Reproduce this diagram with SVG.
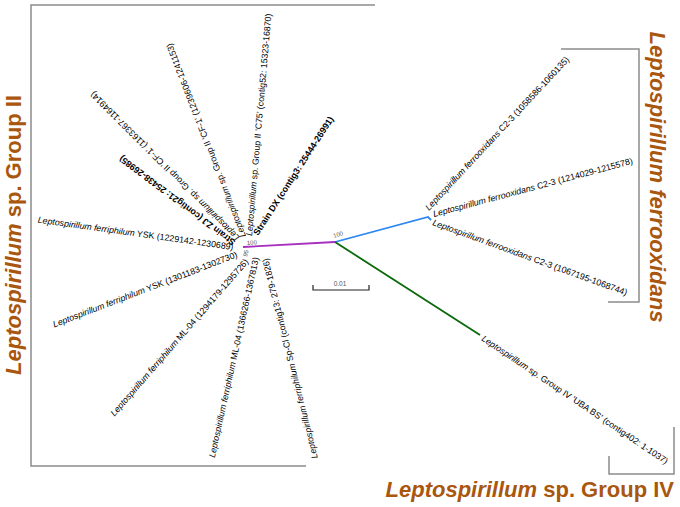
<svg xmlns="http://www.w3.org/2000/svg" width="680" height="507" viewBox="0 0 680 507">
<style>
.lb{font-family:"Liberation Sans",Arial,sans-serif;font-size:8.8px;fill:#000}
.it{font-style:italic}
.bd{font-weight:bold;font-size:9px}
.ti{font-family:"Liberation Sans",Arial,sans-serif;font-size:22px;font-weight:bold;fill:#a9560e}
.br{fill:none;stroke:#8c8c8c;stroke-width:1.5}
.bs{font-family:"Liberation Sans",Arial,sans-serif;font-size:6px;fill:#555}
.ln{fill:none;stroke-width:1.8}
</style>
<rect width="680" height="507" fill="#fff"/>
<g id="brackets">
<path class="br" d="M375,5 H31 V466 H306"/>
<path class="br" d="M561,49 H639 V302 H608"/>
<path class="br" d="M609,456 V474 H674 V427"/>
</g>
<g id="titles">
<text class="ti" transform="translate(21,235) rotate(-90)" text-anchor="middle"><tspan class="it">Leptospirillum</tspan> sp. Group II</text>
<text class="ti it" transform="translate(650,177) rotate(90)" text-anchor="middle">Leptospirillum ferrooxidans</text>
<text class="ti" x="674" y="497" text-anchor="end"><tspan class="it">Leptospirillum</tspan> sp. Group IV</text>
</g>
<g id="connectors">
<path class="ln" stroke="#a62fbf" d="M243,247 L335,242"/>
<path class="ln" stroke="#2a86f0" d="M335,242 L428,217 L431,220"/>
<path class="ln" stroke="#0b690b" d="M335,242 L480,335"/>
</g>
<g id="bootstrap">
<text class="bs" transform="translate(334,238) rotate(-18)">100</text>
<text class="bs" transform="translate(247,245) rotate(-5)">100</text>
<text class="bs" transform="translate(247,257) rotate(-75)">95</text>
</g>
<g id="scalebar">
<path fill="none" stroke="#222" stroke-width="1.2" d="M313,285 V290 H369 V285"/>
<text class="bs" x="340" y="286" text-anchor="middle" style="font-size:6.5px">0.01</text>
</g>
<g id="n-dx"><text class="lb bd" transform="translate(258,236) rotate(-57)">Strain DX (contig3: 25444-26991)</text></g>
<g id="n-c75"><text class="lb" transform="translate(252,236) rotate(-85)"><tspan class="it">Leptospirillum</tspan> sp. Group II 'C75' (contig52: 15323-16870)</text></g>
<g id="n-cf1a"><text class="lb" transform="translate(246,236) rotate(-111)"><tspan class="it">Leptospirillum</tspan> sp. Group II 'CF-1' (1239606-1241153)</text></g>
<g id="n-cf1b"><text class="lb" transform="translate(240,237) rotate(-135)"><tspan class="it">Leptospirillum</tspan> sp. Group II 'CF-1' (1163367-1164914)</text></g>
<g id="n-zj"><text class="lb bd" transform="translate(236,241) rotate(-143)">Strain ZJ (contig21: 25438-26985)</text></g>
<g id="n-ysk1"><text class="lb" text-anchor="end" transform="translate(233,250) rotate(8)"><tspan class="it">Leptospirillum ferriphilum</tspan> YSK (1229142-1230689)</text></g>
<g id="n-ysk2"><text class="lb" text-anchor="end" transform="translate(238,257) rotate(-21)"><tspan class="it">Leptospirillum ferriphilum</tspan> YSK (1301183-1302730)</text></g>
<g id="n-ml1"><text class="lb" text-anchor="end" transform="translate(249,262) rotate(-49)"><tspan class="it">Leptospirillum ferriphilum</tspan> ML-04 (1294179-1295726)</text></g>
<g id="n-ml2"><text class="lb" text-anchor="end" transform="translate(259,258) rotate(-77.5)"><tspan class="it">Leptospirillum ferriphilum</tspan> ML-04 (1366266-1367813)</text></g>
<g id="n-spcl"><text class="lb" text-anchor="end" transform="translate(268,258) rotate(-104)"><tspan class="it">Leptospirillum ferriphilum</tspan> Sp-Cl (contig13: 279-1826)</text></g>
<g id="n-fx1"><text class="lb" transform="translate(429,211) rotate(-47)"><tspan class="it">Leptospirillum ferrooxidans</tspan> C2-3 (1058586-1060135)</text></g>
<g id="n-fx2"><text class="lb" transform="translate(434,217) rotate(-15)"><tspan class="it">Leptospirillum ferrooxidans</tspan> C2-3 (1214029-1215578)</text></g>
<g id="n-fx3"><text class="lb" transform="translate(432,225) rotate(20)"><tspan class="it">Leptospirillum ferrooxidans</tspan> C2-3 (1067195-1068744)</text></g>
<g id="n-g4"><text class="lb" transform="translate(481,340) rotate(34)"><tspan class="it">Leptospirillum</tspan> sp. Group IV 'UBA BS' (contig402: 1-1037)</text></g>
</svg>
